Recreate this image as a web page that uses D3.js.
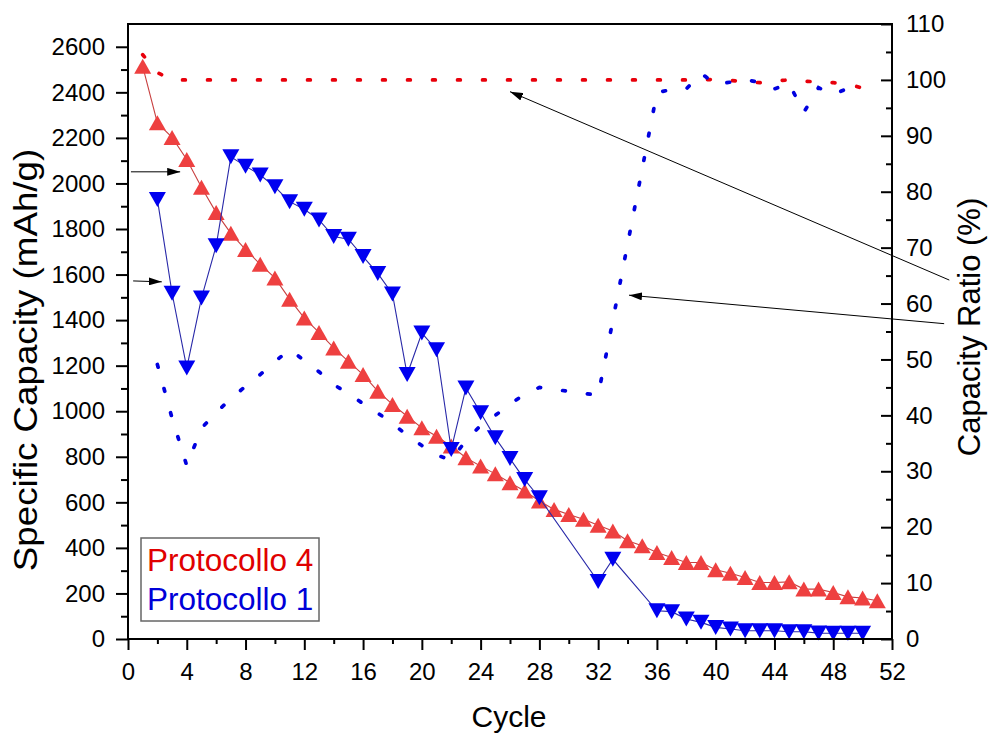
<!DOCTYPE html>
<html>
<head>
<meta charset="utf-8">
<script src="https://cdn.jsdelivr.net/npm/d3@7"></script>
<style>
  body { margin: 0; background: #fff; }
  text { font-family: "Liberation Sans", Arial, sans-serif; }
</style>
</head>
<body>
<div id="chart"></div>
<script>
// data
var p4_cycles = d3.range(1, 52);
var p4_capacity = [2514, 2266, 2202, 2105, 1983, 1872, 1781, 1710, 1645, 1585,
    1492, 1409, 1346, 1278, 1219, 1161, 1088, 1030, 978, 927,
    890, 847, 796, 759, 725, 686, 650, 606, 569, 547,
    526, 499, 474, 431, 409, 380, 358, 336, 336, 304,
    289, 270, 248, 248, 251, 219, 219, 204, 185, 180, 168];

var p4_ratio_cycles = d3.range(1, 51);
var p4_ratio = [104.5, 101.3, 100, 100, 100, 100, 100, 100, 100, 100,
    100, 100, 100, 100, 100, 100, 100, 100, 100, 100,
    100, 100, 100, 100, 100, 100, 100, 100, 100, 100,
    100, 100, 100, 100, 100, 100, 100, 100, 100, 100.1,
    99.9, 99.7, 99.5, 99.8, 100, 99.8, 99.6, 99.5, 99.3, 98.5];

var p1_cycles = [2, 3, 4, 5, 6, 7, 8, 9, 10, 11, 12, 13, 14, 15, 16, 17, 18, 19, 20,
    21, 22, 23, 24, 25, 26, 27, 28, 32, 33, 36, 37, 38, 39, 40, 41, 42, 43, 44, 45,
    46, 47, 48, 49, 50];
var p1_capacity = [1930, 1518, 1190, 1497, 1726, 2117, 2076, 2037, 1985, 1920,
    1887, 1840, 1767, 1755, 1679, 1605, 1515, 1161, 1343, 1270,
    832, 1102, 993, 883, 792, 700, 620, 252, 350, 124,
    120, 88, 73, 51, 44, 36, 36, 36, 32, 32, 26, 25, 25, 25];
var p1_ratio = [49.1, 39.5, 31.0, 37.7, 40.5, 43.0, 45.2, 47.3, 49.6, 51.8,
    49.8, 47.8, 45.5, 43.9, 42.1, 40.4, 38.6, 36.4, 34.6, 32.9,
    32.0, 35.5, 38.2, 40.0, 42.0, 43.8, 45.0, 43.6, 57.0, 97.7,
    98.3, 98.4, 101.2, 99.2, 99.6, 100.0, 99.6, 98.4, 99.3, 94.2,
    98.6, 97.4, 98.5, 98.9];

var legend_labels = ["Protocollo 4", "Protocollo 1"];

// annotation arrows, in cycle / axis units
var arrows = [
    {axis: "left",  from: [0.2, 2051], to: [3.55, 2051]},
    {axis: "left",  from: [0.35, 1572], to: [2.3, 1568]},
    {axis: "right", from: [55.9, 64.2], to: [26.0, 97.9]},
    {axis: "right", from: [55.55, 56.4], to: [34.1, 61.5]}
];

var width = 991, height = 733;
var x0 = 128, x1 = 892, y0 = 639, y1 = 24;

var svg = d3.select("#chart").append("svg")
    .attr("width", width)
    .attr("height", height);

var x = d3.scaleLinear().domain([0, 52]).range([x0, x1]);
var yL = d3.scaleLinear().domain([0, 2700]).range([y0, y1]);
var yR = d3.scaleLinear().domain([0, 110]).range([y0, y1]);

svg.append("defs").append("marker")
    .attr("id", "head")
    .attr("viewBox", "0 0 13 8")
    .attr("refX", 13).attr("refY", 4)
    .attr("markerWidth", 13).attr("markerHeight", 8)
    .attr("markerUnits", "userSpaceOnUse")
    .attr("orient", "auto")
  .append("path")
    .attr("d", "M0,0 L13,4 L0,8 Z")
    .attr("fill", "#000");

// ratio curves (dotted, right axis)
var ratioLine = d3.line().x(d => x(d[0])).y(d => yR(d[1]));
svg.append("path")
    .datum(d3.zip(p4_ratio_cycles, p4_ratio))
    .attr("d", ratioLine)
    .attr("fill", "none")
    .attr("stroke", "#e8000b")
    .attr("stroke-width", 3.7)
    .attr("stroke-linecap", "round")
    .attr("stroke-dasharray", "2.8 22.2");
svg.append("path")
    .datum(d3.zip(p1_cycles, p1_ratio))
    .attr("d", ratioLine)
    .attr("fill", "none")
    .attr("stroke", "#0000e0")
    .attr("stroke-width", 3.7)
    .attr("stroke-linecap", "round")
    .attr("stroke-dasharray", "2.8 22.2");

// capacity curves
var capLine = d3.line().x(d => x(d[0])).y(d => yL(d[1]));
var tri = 17, triH = 15;
function upTri(d) {
    var cx = x(d[0]), cy = yL(d[1]);
    return "M" + (cx - tri / 2) + "," + (cy + triH / 2) + "L" + cx + "," + (cy - triH / 2) +
        "L" + (cx + tri / 2) + "," + (cy + triH / 2) + "Z";
}
function downTri(d) {
    var cx = x(d[0]), cy = yL(d[1]);
    return "M" + (cx - tri / 2) + "," + (cy - triH / 2) + "L" + cx + "," + (cy + triH / 2) +
        "L" + (cx + tri / 2) + "," + (cy - triH / 2) + "Z";
}

var p4 = d3.zip(p4_cycles, p4_capacity);
svg.append("path")
    .datum(p4)
    .attr("d", capLine)
    .attr("fill", "none")
    .attr("stroke", "#c84040")
    .attr("stroke-width", 1.1);
svg.append("g").selectAll("path")
    .data(p4)
    .join("path")
    .attr("d", upTri)
    .attr("fill", "#ee4040");

var p1 = d3.zip(p1_cycles, p1_capacity);
svg.append("path")
    .datum(p1)
    .attr("d", capLine)
    .attr("fill", "none")
    .attr("stroke", "#2828a8")
    .attr("stroke-width", 1.1);
svg.append("g").selectAll("path")
    .data(p1)
    .join("path")
    .attr("d", downTri)
    .attr("fill", "#0000f0");

// axes
var fmt = d3.format("d");
svg.append("g").attr("transform", "translate(" + x0 + ",0)")
    .call(d3.axisLeft(yL).tickValues(d3.range(0, 2601, 200)).tickFormat(fmt)
        .tickSize(12).tickSizeOuter(0).tickPadding(11));
svg.append("g").attr("transform", "translate(" + x0 + ",0)")
    .call(d3.axisLeft(yL).tickValues(d3.range(100, 2700, 200)).tickSize(7).tickSizeOuter(0).tickFormat(""));

svg.append("g").attr("transform", "translate(0," + y0 + ")")
    .call(d3.axisBottom(x).tickValues(d3.range(0, 53, 4)).tickFormat(fmt)
        .tickSize(11).tickSizeOuter(0).tickPadding(13));
svg.append("g").attr("transform", "translate(0," + y0 + ")")
    .call(d3.axisBottom(x).tickValues(d3.range(2, 52, 4)).tickSize(5).tickSizeOuter(0).tickFormat(""));

svg.append("g").attr("transform", "translate(" + x1 + ",0)")
    .call(d3.axisLeft(yR).tickValues(d3.range(0, 111, 10)).tickSize(11).tickSizeOuter(0).tickFormat(""));
svg.append("g").attr("transform", "translate(" + x1 + ",0)")
    .call(d3.axisLeft(yR).tickValues(d3.range(5, 110, 10)).tickSize(6).tickSizeOuter(0).tickFormat(""));
svg.append("g").attr("transform", "translate(" + x1 + ",0)")
    .call(d3.axisRight(yR).tickValues(d3.range(0, 111, 10)).tickFormat(fmt)
        .tickSize(0).tickSizeOuter(0).tickPadding(14));

svg.selectAll(".domain").remove();
svg.selectAll(".tick line").attr("stroke", "#000").attr("stroke-width", 2);
svg.selectAll(".tick text")
    .attr("fill", "#000")
    .style("font-size", "24px")
    .style("font-family", "'Liberation Sans', Arial, sans-serif");

svg.append("rect")
    .attr("x", x0).attr("y", y1)
    .attr("width", x1 - x0).attr("height", y0 - y1)
    .attr("fill", "none")
    .attr("stroke", "#000")
    .attr("stroke-width", 2);

// arrows
svg.append("g").selectAll("line")
    .data(arrows)
    .join("line")
    .attr("x1", d => x(d.from[0]))
    .attr("y1", d => (d.axis == "left" ? yL : yR)(d.from[1]))
    .attr("x2", d => x(d.to[0]))
    .attr("y2", d => (d.axis == "left" ? yL : yR)(d.to[1]))
    .attr("stroke", "#000")
    .attr("stroke-width", 1)
    .attr("marker-end", "url(#head)");

// axis titles
svg.append("text")
    .attr("x", (x0 + x1) / 2 - 1).attr("y", 727)
    .attr("text-anchor", "middle")
    .style("font-size", "30px")
    .text("Cycle");
svg.append("text")
    .attr("transform", "translate(37,360) scale(1,1.08) rotate(-90)")
    .attr("text-anchor", "middle")
    .style("font-size", "34px")
    .text("Specific Capacity (mAh/g)");
svg.append("text")
    .attr("transform", "translate(980,327) rotate(-90)")
    .attr("text-anchor", "middle")
    .style("font-size", "31px")
    .text("Capacity Ratio (%)");

// legend
svg.append("rect")
    .attr("x", 141).attr("y", 538)
    .attr("width", 178).attr("height", 83)
    .attr("fill", "#fff")
    .attr("stroke", "#666")
    .attr("stroke-width", 1.5);
svg.append("g").selectAll("text")
    .data(legend_labels)
    .join("text")
    .attr("x", 147)
    .attr("y", (d, i) => 571 + i * 39)
    .attr("fill", (d, i) => i == 0 ? "#e00000" : "#0000d8")
    .style("font-size", "31.5px")
    .text(d => d);
</script>
</body>
</html>
